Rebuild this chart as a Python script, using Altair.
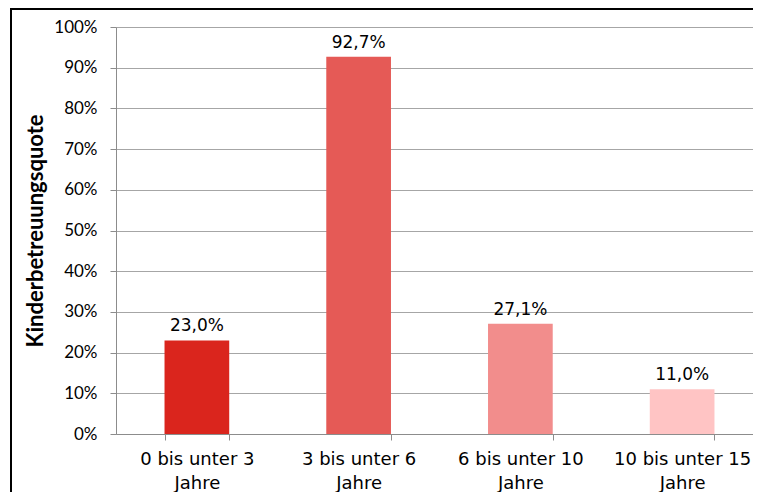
import altair as alt
import pandas as pd

categories = ["0 bis unter 3 Jahre", "3 bis unter 6 Jahre", "6 bis unter 10 Jahre", "10 bis unter 15 Jahre"]
values = [0.230, 0.927, 0.271, 0.110]
labels = ["23,0%", "92,7%", "27,1%", "11,0%"]
colors = ["#DA251D", "#E55A56", "#F28D8C", "#FFC4C4"]

df = pd.DataFrame({"cat": categories, "val": values, "lab": labels, "col": colors})

W = 637
H = 407

x = alt.X("cat:N", sort=categories, title=None,
          scale=alt.Scale(paddingInner=0.6, paddingOuter=0.3, range=[0, 647]),
          axis=alt.Axis(labelAngle=0, labelFont="DejaVu Sans", labelFontSize=18,
                        labelColor="#000000", labelPadding=10, labelLineHeight=24,
                        labelExpr="[slice(datum.label, 0, lastindexof(datum.label, ' ')), slice(datum.label, lastindexof(datum.label, ' ') + 1)]",
                        tickBand="extent", tickSize=6, tickColor="#8c8c8c",
                        domainColor="#8c8c8c", grid=False))

y = alt.Y("val:Q", title="Kinderbetreuungsquote",
          scale=alt.Scale(domain=[0, 1], nice=False),
          axis=alt.Axis(values=[i / 10 for i in range(11)], format=".0%",
                        labelFont="Lato", labelFontSize=17, labelColor="#000000",
                        labelPadding=13, tickSize=6, tickColor="#8c8c8c",
                        domainColor="#8c8c8c", gridColor="#a6a6a6",
                        titleFont="Lato", titleFontSize=22, titleFontWeight="bold",
                        titleColor="#000000", titlePadding=6))

bars = alt.Chart(df).mark_bar().encode(
    x=x, y=y, color=alt.Color("col:N", scale=None, legend=None)
)

text = alt.Chart(df).mark_text(font="DejaVu Sans", fontSize=17, dy=-9,
                               baseline="alphabetic", color="#000000").encode(
    x=alt.X("cat:N", sort=categories), y="val:Q", text="lab:N"
)

border = alt.Chart(df).mark_rect(fill=None, stroke="#000000", strokeWidth=2).encode(
    x=alt.value(-105), x2=alt.value(W + 40), y=alt.value(-18), y2=alt.value(H + 120)
)

chart = alt.layer(bars, text, border).properties(
    width=W, height=H,
    autosize=alt.AutoSizeParams(type="none"),
    padding={"left": 108, "top": 19, "right": 0, "bottom": 58},
).configure_view(stroke=None).configure(background="#ffffff")

chart.save("out.html", embed_options={"renderer": "svg", "actions": False})
